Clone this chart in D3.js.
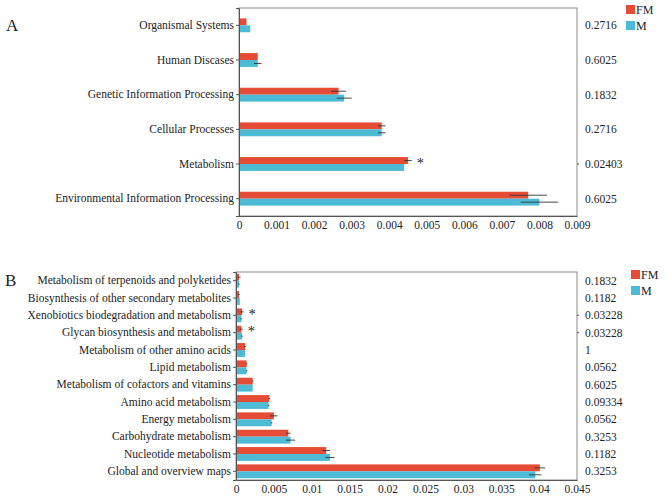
<!DOCTYPE html>
<html>
<head>
<meta charset="utf-8">
<script src="https://cdn.jsdelivr.net/npm/d3@7"></script>
<style>
  body { margin: 0; background: #fff; }
  svg { display: block; }
  svg text { font-family: "Liberation Serif", "Times New Roman", serif !important; }
</style>
</head>
<body>
<svg width="666" height="500"></svg>
<script>
// panel A data
const catsA = ["Organismal Systems", "Human Discases", "Genetic Information Processing",
    "Cellular Processes", "Metabolism", "Environmental Information Processing"];
const fmA = [0.0002, 0.0005, 0.00265, 0.0038, 0.0045, 0.0077];
const mA = [0.0003, 0.0005, 0.0028, 0.0038, 0.0044, 0.0080];
const fmErrA = [0, 0, 0.0002, 0.0001, 0.0001, 0.0005];
const mErrA = [0, 0.0001, 0.0002, 0.0001, 0, 0.0005];
const pA = ["0.2716", "0.6025", "0.1832", "0.2716", "0.02403", "0.6025"];
const ticksA = [0, 0.001, 0.002, 0.003, 0.004, 0.005, 0.006, 0.007, 0.008, 0.009];

// panel B data
const catsB = ["Metabolism of terpenoids and polyketides", "Biosynthesis of other secondary metabolites",
    "Xenobiotics biodegradation and metabolism", "Glycan biosynthesis and metabolism",
    "Metabolism of other amino acids", "Lipid metabolism", "Metabolism of cofactors and vitamins",
    "Amino acid metabolism", "Energy metabolism", "Carbohydrate metabolism",
    "Nucleotide metabolism", "Global and overview maps"];
const fmB = [0.0004, 0.0004, 0.0008, 0.0007, 0.0012, 0.0014, 0.0022, 0.0044, 0.0050, 0.0069, 0.0119, 0.0401];
const mB = [0.0004, 0.0005, 0.0007, 0.0008, 0.0012, 0.0014, 0.0022, 0.0043, 0.0047, 0.0072, 0.0124, 0.0395];
const fmErrB = [0.0002, 0.0001, 0.0002, 0.0002, 0.0001, 0.0001, 0.0001, 0.0001, 0.0005, 0.0003, 0.0005, 0.0007];
const mErrB = [0.0001, 0, 0.0001, 0.0001, 0, 0.0001, 0, 0.0001, 0.0001, 0.0006, 0.0006, 0.0008];
const pB = ["0.1832", "0.1182", "0.03228", "0.03228", "1", "0.0562", "0.6025",
    "0.09334", "0.0562", "0.3253", "0.1182", "0.3253"];
const ticksB = [0, 0.005, 0.01, 0.015, 0.02, 0.025, 0.03, 0.035, 0.04, 0.045];

const groups = ["FM", "M"];
const colors = ["#e64b35", "#4dbbd5"];

const svg = d3.select("svg");

function drawPanel(o) {
    const g = svg.append("g");
    const x = d3.scaleLinear().domain([0, o.max]).range([o.left, o.right]);
    const y = d3.scaleBand().domain(o.cats).range([o.top, o.bottom]).paddingInner(o.pad).paddingOuter(o.pad / 2);
    const bh = y.bandwidth() / 2;

    // frame
    g.append("rect")
        .attr("x", o.left).attr("y", o.top)
        .attr("width", o.right - o.left).attr("height", o.bottom - o.top)
        .attr("fill", "none").attr("stroke", "#8a8a8a").attr("stroke-width", 1);

    const series = [o.fm, o.m];
    const errs = [o.fmErr, o.mErr];
    series.forEach((vals, s) => {
        g.selectAll(".bar" + s)
            .data(o.cats)
            .enter().append("rect")
            .attr("x", o.left)
            .attr("y", d => y(d) + s * bh)
            .attr("width", (d, i) => x(vals[i]) - o.left)
            .attr("height", bh)
            .attr("fill", colors[s]);
        g.selectAll(".err" + s)
            .data(o.cats)
            .enter().append("line")
            .attr("x1", (d, i) => x(vals[i] - errs[s][i]))
            .attr("x2", (d, i) => x(vals[i] + errs[s][i]))
            .attr("y1", d => y(d) + s * bh + bh / 2)
            .attr("y2", d => y(d) + s * bh + bh / 2)
            .attr("stroke", "#333").attr("stroke-width", 0.9);
    });

    // left axis
    const ay = g.append("g").attr("transform", `translate(${o.left},0)`)
        .call(d3.axisLeft(y).tickSize(3).tickPadding(2));
    ay.select(".domain").attr("stroke", "#555");
    ay.selectAll(".tick line").attr("stroke", "#555");
    ay.selectAll("text").attr("font-size", o.fs).attr("fill", "#222");

    // bottom axis
    const ax = g.append("g").attr("transform", `translate(0,${o.bottom})`)
        .call(d3.axisBottom(x).tickValues(o.ticks).tickFormat(d => d3.format("")(+d.toFixed(4))).tickSize(0).tickPadding(5));
    ax.select(".domain").attr("stroke", "#555");
    ax.selectAll("text").attr("font-size", o.fs).attr("fill", "#222");

    // p values
    g.selectAll(".pv")
        .data(o.cats)
        .enter().append("text")
        .attr("x", o.right + 8)
        .attr("y", d => y(d) + y.bandwidth() / 2)
        .attr("dy", "0.35em")
        .attr("font-size", o.fs).attr("fill", "#222")
        .text((d, i) => o.p[i]);
    g.selectAll(".pt")
        .data(o.cats.filter((d, i) => +o.p[i] < 0.05))
        .enter().append("line")
        .attr("x1", o.right).attr("x2", o.right + 2)
        .attr("y1", d => y(d) + y.bandwidth() / 2)
        .attr("y2", d => y(d) + y.bandwidth() / 2)
        .attr("stroke", "#555");

    // stars
    g.selectAll(".star")
        .data(o.cats.filter((d, i) => +o.p[i] < 0.05))
        .enter().append("text")
        .attr("x", d => x(o.fm[o.cats.indexOf(d)] + o.fmErr[o.cats.indexOf(d)]) + 5)
        .attr("y", d => y(d) + bh / 2 + 7)
        .attr("font-size", o.fs + 3).attr("fill", "#222")
        .text("*");

    // legend
    groups.forEach((k, i) => {
        g.append("rect").attr("x", o.lx).attr("y", o.ly + i * 16)
            .attr("width", 9).attr("height", 9).attr("fill", colors[i]);
        g.append("text").attr("x", o.lx + 10).attr("y", o.ly + i * 16 + 8.5)
            .attr("font-size", o.fs + 0.5).attr("fill", "#222").text(k);
    });

    // panel letter
    g.append("text").attr("x", o.lx0).attr("y", o.ly0)
        .attr("font-size", 17).attr("fill", "#222").text(o.letter);
}

drawPanel({
    cats: catsA, fm: fmA, m: mA, fmErr: fmErrA, mErr: mErrA, p: pA, ticks: ticksA,
    max: 0.009, left: 239, right: 577, top: 8, bottom: 216, pad: 0.6, fs: 11.5,
    lx: 626, ly: 5, letter: "A", lx0: 6, ly0: 31
});

drawPanel({
    cats: catsB, fm: fmB, m: mB, fmErr: fmErrB, mErr: mErrB, p: pB, ticks: ticksB,
    max: 0.045, left: 236, right: 577, top: 272, bottom: 480, pad: 0.2, fs: 11.5,
    lx: 631, ly: 270, letter: "B", lx0: 5, ly0: 286
});
</script>
</body>
</html>
